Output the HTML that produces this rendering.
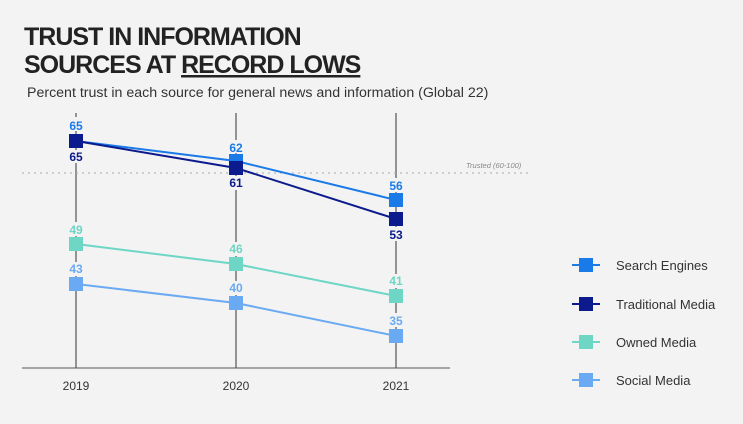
<!DOCTYPE html>
<html><head><meta charset="utf-8"><style>
body{margin:0;background:#f3f3f3;width:743px;height:419px;overflow:hidden;font-family:"Liberation Sans",sans-serif}
</style></head><body>
<svg width="743" height="419" viewBox="0 0 743 419" xmlns="http://www.w3.org/2000/svg" font-family="Liberation Sans, sans-serif">
<rect width="743" height="419" fill="#f3f3f3"/>
<text x="24" y="45" font-size="25" font-weight="bold" fill="#222" letter-spacing="-1">TRUST IN INFORMATION</text>
<text x="24" y="73" font-size="25" font-weight="bold" fill="#222" letter-spacing="-1">SOURCES AT <tspan text-decoration="underline">RECORD LOWS</tspan></text>
<text x="27" y="97" font-size="14.2" fill="#333">Percent trust in each source for general news and information (Global 22)</text>
<g stroke="#333" stroke-width="1">
<line x1="76" y1="113" x2="76" y2="368"/>
<line x1="236" y1="113" x2="236" y2="368"/>
<line x1="396" y1="113" x2="396" y2="368"/>
</g>
<line x1="22" y1="368" x2="450" y2="368" stroke="#555" stroke-width="1"/>
<line x1="22" y1="173" x2="530" y2="173" stroke="#aaa" stroke-width="1" stroke-dasharray="2,4"/>
<text x="466" y="168" font-size="7.5" font-style="italic" fill="#888">Trusted (60-100)</text>
<g fill="#f3f3f3">
<rect x="66" y="117" width="20" height="14"/><rect x="66" y="150" width="20" height="13"/>
<rect x="66" y="222" width="20" height="14"/><rect x="66" y="262" width="20" height="14"/>
<rect x="226" y="140" width="20" height="13"/><rect x="226" y="176" width="20" height="14"/>
<rect x="226" y="242" width="20" height="14"/><rect x="226" y="281" width="20" height="14"/>
<rect x="386" y="178" width="20" height="14"/><rect x="386" y="227" width="20" height="14"/>
<rect x="386" y="274" width="20" height="14"/><rect x="386" y="313" width="20" height="14"/>
</g>
<polyline points="76,141 236,161 396,200" fill="none" stroke="#1a7ae8" stroke-width="2"/>
<polyline points="76,141 236,168 396,219" fill="none" stroke="#0b1a8c" stroke-width="2"/>
<polyline points="76,244 236,264 396,296" fill="none" stroke="#6ed6c4" stroke-width="2"/>
<polyline points="76,284 236,303 396,336" fill="none" stroke="#6aaaf2" stroke-width="2"/>
<g fill="#1a7ae8"><rect x="229" y="154" width="14" height="14"/><rect x="389" y="193" width="14" height="14"/></g>
<g fill="#0b1a8c"><rect x="69" y="134" width="14" height="14"/><rect x="229" y="161" width="14" height="14"/><rect x="389" y="212" width="14" height="14"/></g>
<g fill="#6ed6c4"><rect x="69" y="237" width="14" height="14"/><rect x="229" y="257" width="14" height="14"/><rect x="389" y="289" width="14" height="14"/></g>
<g fill="#6aaaf2"><rect x="69" y="277" width="14" height="14"/><rect x="229" y="296" width="14" height="14"/><rect x="389" y="329" width="14" height="14"/></g>
<g font-size="12" font-weight="bold" text-anchor="middle">
<text x="76" y="130" fill="#1a7ae8">65</text><text x="76" y="161" fill="#0b1a8c">65</text>
<text x="236" y="152" fill="#1a7ae8">62</text><text x="236" y="187" fill="#0b1a8c">61</text>
<text x="396" y="190" fill="#1a7ae8">56</text><text x="396" y="239" fill="#0b1a8c">53</text>
<text x="76" y="234" fill="#6ed6c4">49</text><text x="236" y="253" fill="#6ed6c4">46</text><text x="396" y="285" fill="#6ed6c4">41</text>
<text x="76" y="273" fill="#6aaaf2">43</text><text x="236" y="292" fill="#6aaaf2">40</text><text x="396" y="325" fill="#6aaaf2">35</text>
</g>
<g font-size="12" fill="#333" text-anchor="middle">
<text x="76" y="390">2019</text><text x="236" y="390">2020</text><text x="396" y="390">2021</text>
</g>
<g stroke-width="2">
<line x1="572" y1="265" x2="600" y2="265" stroke="#1a7ae8"/>
<line x1="572" y1="304" x2="600" y2="304" stroke="#0b1a8c"/>
<line x1="572" y1="342" x2="600" y2="342" stroke="#6ed6c4"/>
<line x1="572" y1="380" x2="600" y2="380" stroke="#6aaaf2"/>
</g>
<rect x="579" y="258" width="14" height="14" fill="#1a7ae8"/>
<rect x="579" y="297" width="14" height="14" fill="#0b1a8c"/>
<rect x="579" y="335" width="14" height="14" fill="#6ed6c4"/>
<rect x="579" y="373" width="14" height="14" fill="#6aaaf2"/>
<g font-size="13" fill="#333">
<text x="616" y="270">Search Engines</text>
<text x="616" y="309">Traditional Media</text>
<text x="616" y="347">Owned Media</text>
<text x="616" y="385">Social Media</text>
</g>
</svg>
</body></html>
